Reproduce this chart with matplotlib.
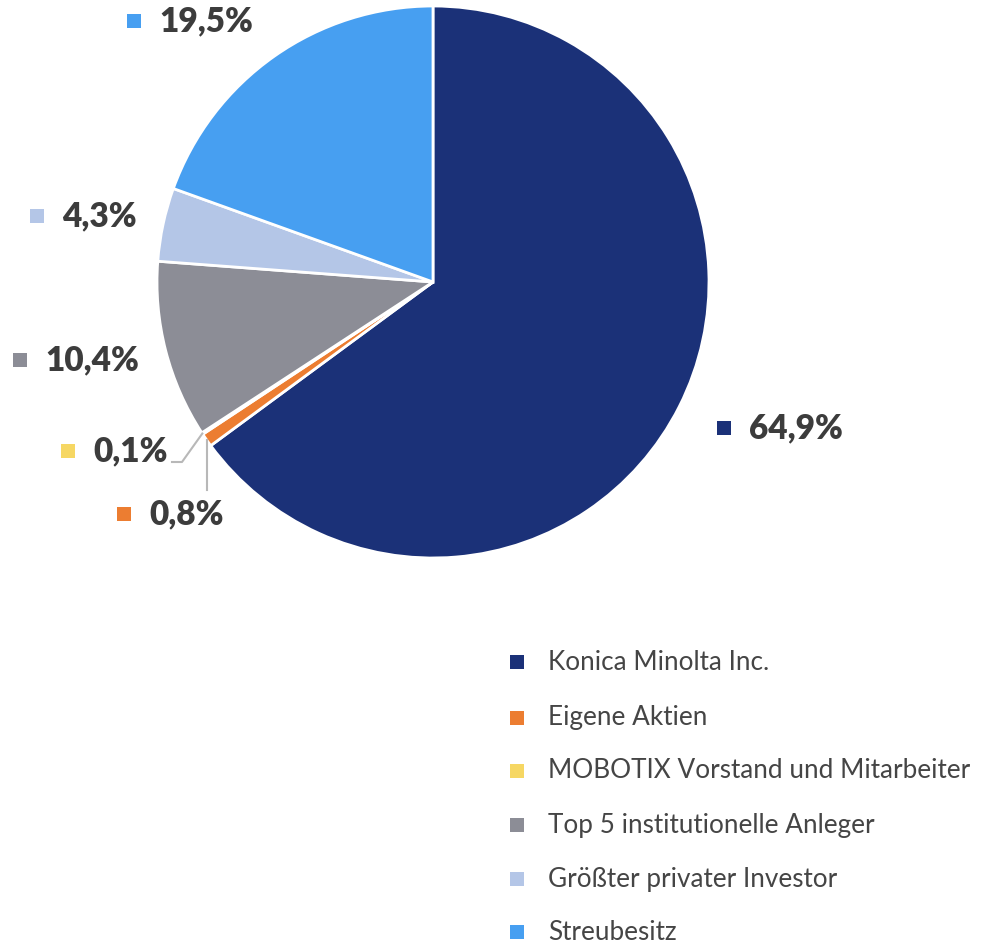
import numpy as np
import matplotlib.pyplot as plt

plt.rcParams["font.family"] = ["Lato", "DejaVu Sans"]

# shareholder structure (percent)
holders = [
    "Konica Minolta Inc.",
    "Eigene Aktien",
    "MOBOTIX Vorstand und Mitarbeiter",
    "Top 5 institutionelle Anleger",
    "Größter privater Investor",
    "Streubesitz",
]
shares = [64.9, 0.8, 0.1, 10.4, 4.3, 19.5]
colors = ["#1b3178", "#ec7d31", "#f6d763", "#8c8d96", "#b4c6e7", "#479ff1"]

W, H = 981, 944
CX, CY, R = 433, H - 282, 276
TXT = "#3c3c3c"

fig = plt.figure(figsize=(W / 100, H / 100), dpi=100)
ax = fig.add_axes([0, 0, 1, 1])
ax.axis("off")

wedges, _ = ax.pie(
    shares, colors=colors, startangle=90, counterclock=False,
    center=(CX, CY), radius=R,
    wedgeprops=dict(edgecolor="white", linewidth=2),
)
ax.set_xlim(0, W)
ax.set_ylim(0, H)
ax.set_aspect("equal")


def label(idx, x, y):
    # square marker + bold percent text, (x, y) in pixel coords from top
    ax.scatter([x], [H - y], marker="s", s=100, color=colors[idx],
               linewidths=0, zorder=5)
    ax.text(x + 25, H - y, f"{shares[idx]:.1f}%".replace(".", ","),
            fontsize=24, fontweight="heavy", color=TXT,
            va="center", ha="left")


label(0, 724, 428)
label(5, 134, 21)
label(4, 37, 216)
label(3, 20, 360)
label(2, 68, 451)
label(1, 124, 514)


# leader lines for the two tiny slices
def edge_point(idx):
    w = wedges[idx]
    mid = np.deg2rad((w.theta1 + w.theta2) / 2)
    return CX + R * np.cos(mid), CY + R * np.sin(mid)


ex, ey = edge_point(2)
ax.plot([ex, 182, 172], [ey, H - 462, H - 462], color="#b8b8b8", lw=1.5)
ex, ey = edge_point(1)
ax.plot([ex, ex], [ey, H - 490], color="#b8b8b8", lw=1.5)

# legend
leg_y = [662, 718, 771, 825, 879, 932]
for i, (name, yy) in enumerate(zip(holders, leg_y)):
    ax.scatter([517], [H - yy], marker="s", s=100, color=colors[i],
               linewidths=0)
    ax.text(548, H - yy, name, fontsize=18.8, color="#454545",
            va="center", ha="left")

fig.savefig("out.png", dpi=100, facecolor="white")
